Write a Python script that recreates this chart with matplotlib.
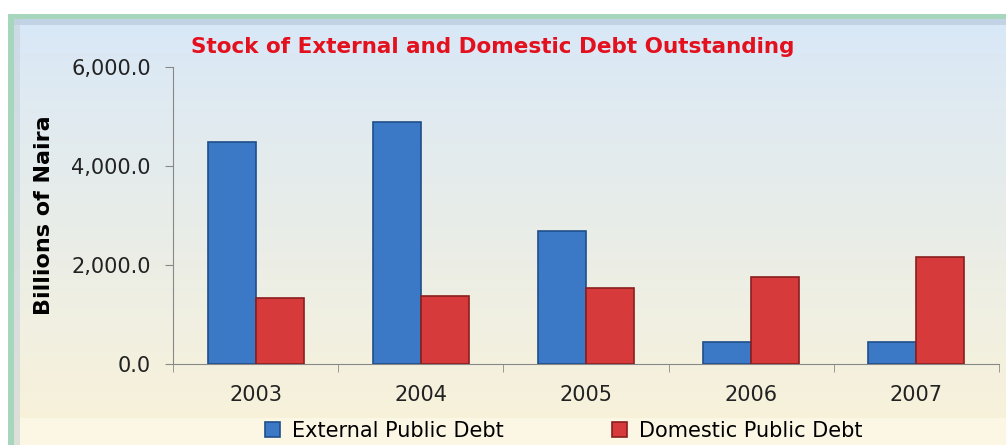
import numpy as np
import matplotlib.pyplot as plt
from matplotlib.patches import Rectangle

years = ['2003', '2004', '2005', '2006', '2007']
external = [4478.9, 4890.3, 2695.1, 451.5, 438.9]
domestic = [1329.7, 1370.3, 1525.9, 1753.3, 2169.6]

W, H = 1006, 445
fig = plt.figure(figsize=(W / 100, H / 100), dpi=100)
fig.patch.set_facecolor('white')

# background with the green frame and the blue-to-cream gradient
bg = fig.add_axes([0, 0, 1, 1])
bg.set_xlim(0, W)
bg.set_ylim(H, 0)
bg.axis('off')
bg.add_patch(Rectangle((8, 14), W, H, facecolor='#a6d6bc', edgecolor='none'))
top = np.array([0.85, 0.91, 0.97])
bot = np.array([0.98, 0.95, 0.85])
t = np.linspace(0, 1, 200)[:, None]
grad = top * (1 - t) + bot * t
grad = np.repeat(grad[:, None, :], 2, axis=1)
bg.imshow(grad, extent=(14, W, H, 19), aspect='auto', zorder=1)
# bevel edges
bg.add_patch(Rectangle((14, 19), W - 14, 6, facecolor='#b4c6dc', alpha=0.6, edgecolor='none', zorder=2))
bg.add_patch(Rectangle((14, 19), 6, H, facecolor='#c3cfd9', alpha=0.5, edgecolor='none', zorder=2))
bg.add_patch(Rectangle((20, 418), W, 30, facecolor='#fefaea', alpha=0.7, edgecolor='none', zorder=2))

ax = fig.add_axes([173 / W, 81 / H, 826 / W, 297 / H])
ax.set_facecolor('none')
x = np.arange(len(years))
bw = 0.29
ax.bar(x - bw / 2, external, bw, color='#3b78c6', edgecolor='#1f4f8a', linewidth=1.2,
       label='External Public Debt', zorder=3)
ax.bar(x + bw / 2, domestic, bw, color='#d63a3a', edgecolor='#8a1f1f', linewidth=1.2,
       label='Domestic Public Debt', zorder=3)

ax.set_xlim(-0.5, len(years) - 0.5)
ax.set_ylim(0, 6000)
ax.set_yticks([0, 2000, 4000, 6000])
ax.set_yticklabels(['0.0', '2,000.0', '4,000.0', '6,000.0'], fontsize=15, color='#222222')
ax.set_xticks(x)
ax.set_xticklabels(years, fontsize=15, color='#222222')
ax.set_xticks(np.arange(len(years) + 1) - 0.5, minor=True)
ax.tick_params(axis='x', which='major', length=0, pad=15)
ax.tick_params(axis='x', which='minor', length=6, color='#888888')
ax.tick_params(axis='y', length=6, color='#888888', pad=10)
for s in ['top', 'right']:
    ax.spines[s].set_visible(False)
ax.spines['left'].set_color('#888888')
ax.spines['bottom'].set_color('#888888')

ax.set_ylabel('Billions of Naira', fontsize=16, fontweight='bold', labelpad=12)
fig.text(493 / W, 1 - 47 / H, 'Stock of External and Domestic Debt Outstanding',
         ha='center', va='center', fontsize=15.5, fontweight='bold', color='#e3101e')

fig.legend(loc='center', bbox_to_anchor=(564 / W, 1 - 431 / H), ncol=2, frameon=False,
           fontsize=15, handlelength=0.7, handleheight=0.7, columnspacing=5.2,
           handletextpad=0.6, borderpad=0)

fig.savefig('out.png', dpi=100)
